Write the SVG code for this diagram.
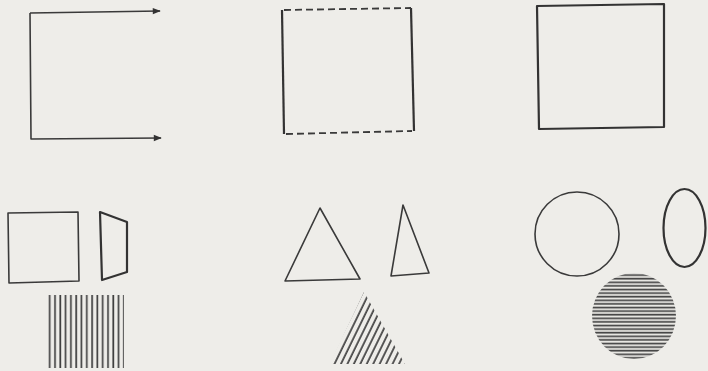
<svg xmlns="http://www.w3.org/2000/svg" width="708" height="371" viewBox="0 0 708 371">
  <defs>
    <style>
      .ln { fill: none; stroke: #3a3a3a; stroke-width: 1.6; stroke-linejoin: round; }
      .thk { fill: none; stroke: #333; stroke-width: 2.2; stroke-linejoin: round; }
      .dash { fill: none; stroke: #3a3a3a; stroke-width: 1.8; stroke-dasharray: 7 4; }
      .hatch { stroke: #404040; stroke-width: 1.7; }
    </style>
    <marker id="arr" viewBox="0 0 10 10" refX="9" refY="5" markerWidth="10" markerHeight="8" markerUnits="userSpaceOnUse" orient="auto">
      <path d="M0,1 L10,5 L0,9 Z" fill="#333"/>
    </marker>
    <pattern id="vhatch" patternUnits="userSpaceOnUse" width="5.3" height="10">
      <line x1="2" y1="0" x2="2" y2="10" class="hatch"/>
    </pattern>
    <pattern id="dhatch" patternUnits="userSpaceOnUse" width="5.8" height="10" patternTransform="rotate(26)">
      <line x1="2" y1="-1" x2="2" y2="11" class="hatch" stroke-width="1.6"/>
    </pattern>
    <pattern id="hhatch" patternUnits="userSpaceOnUse" width="10" height="3.6">
      <line x1="0" y1="1.5" x2="10" y2="1.5" class="hatch" stroke-width="1.3"/>
    </pattern>
  </defs>
  <rect width="708" height="371" fill="#eeede9"/>

  <g id="open-bracket">
    <path class="ln" d="M30,13 L31,139 L161,138" marker-end="url(#arr)"/>
    <line class="ln" x1="30" y1="13" x2="160" y2="11" marker-end="url(#arr)"/>
  </g>

  <g id="dashed-square">
    <line class="thk" x1="282" y1="10" x2="284" y2="134"/>
    <line class="thk" x1="411" y1="8" x2="414" y2="131"/>
    <line class="dash" x1="284" y1="10" x2="411" y2="8"/>
    <line class="dash" x1="286" y1="134" x2="412" y2="131"/>
  </g>

  <g id="solid-square">
    <path class="thk" d="M537,6 L664,4 L664,127 L539,129 Z"/>
  </g>

  <g id="small-square">
    <path class="ln" d="M8,213 L78,212 L79,281 L9,283 Z"/>
  </g>

  <g id="trapezoid">
    <path class="thk" d="M100,212 L127,222 L127,272 L102,280 Z"/>
  </g>

  <g id="hatched-rect">
    <rect x="47" y="295" width="77" height="73" fill="url(#vhatch)"/>
  </g>

  <g id="big-triangle">
    <path class="ln" d="M320,208 L360,279 L285,281 Z"/>
  </g>

  <g id="small-triangle">
    <path class="ln" d="M403,205 L429,273 L391,276 Z"/>
  </g>

  <g id="hatched-triangle">
    <path d="M364,292 L405,364 L330,364 Z" fill="url(#dhatch)"/>
  </g>

  <g id="circle">
    <circle class="ln" cx="577" cy="234" r="42"/>
  </g>

  <g id="ellipse">
    <ellipse class="thk" cx="684.5" cy="228" rx="21" ry="39"/>
  </g>

  <g id="hatched-circle">
    <ellipse cx="634" cy="316" rx="42" ry="43" fill="url(#hhatch)"/>
  </g>
</svg>
